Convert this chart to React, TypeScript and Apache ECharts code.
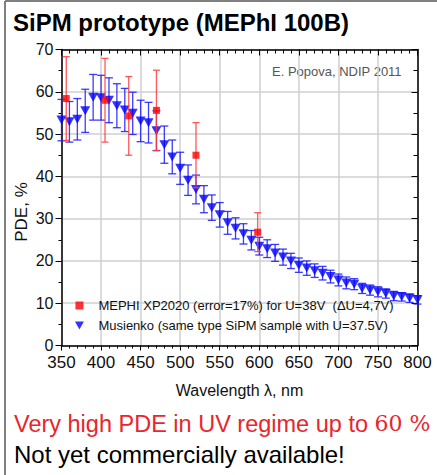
import React, { useEffect, useRef } from "react";
import * as echarts from "echarts";

const titleText = "SiPM prototype (MEPhI 100B)";
const creditText = "E. Popova, NDIP 2011";
const xAxisName = "Wavelength λ, nm";
const yAxisName = "PDE, %";
const noteRed = "Very high PDE in UV regime up to {s|60 %}";
const noteBlack = "Not yet commercially available!";

const mephiName = "MEPHI XP2020 (error=17%) for U=38V  (ΔU=4,7V)";
const musienkoName = "Musienko (same type SiPM sample with U=37.5V)";

const mephiWl = [356, 405, 435, 470, 520, 598];
const mephiPde = [58.4, 58.0, 54.3, 55.6, 45.0, 26.8];
const mephiErr = [9.9, 9.9, 9.3, 9.5, 7.7, 4.6];

const musienkoWl = [
  350, 360, 370, 380, 390, 400, 410, 420, 430, 440, 450, 460, 470, 480, 490, 500,
  510, 520, 530, 540, 550, 560, 570, 580, 590, 600, 610, 620, 630, 640, 650, 660,
  670, 680, 690, 700, 710, 720, 730, 740, 750, 760, 770, 780, 790, 800,
];
const musienkoPde = [
  53.3, 52.9, 53.5, 55.5, 58.7, 58.6, 58.0, 56.7, 55.7, 54.9, 53.1, 52.7, 50.8, 47.5, 44.6, 41.9,
  39.1, 36.9, 34.6, 32.6, 30.9, 29.0, 27.7, 26.4, 24.9, 23.5, 22.9, 21.9, 20.9, 20.0, 19.0, 18.3,
  17.7, 17.1, 16.3, 15.5, 14.8, 14.5, 13.5, 13.1, 12.7, 12.3, 11.7, 11.5, 11.2, 10.8,
];
const musienkoErr = [
  4.9, 4.8, 4.9, 5.1, 5.4, 5.3, 5.3, 5.2, 5.1, 5.0, 4.9, 4.8, 4.7, 4.4, 4.0, 3.8,
  3.6, 3.4, 3.2, 3.0, 2.9, 2.7, 2.5, 2.4, 2.3, 2.1, 2.1, 2.0, 1.9, 1.8, 1.7, 1.7,
  1.6, 1.6, 1.5, 1.4, 1.4, 1.3, 1.2, 1.2, 1.2, 1.1, 1.1, 1.0, 1.0, 1.0,
];

const SANS = "'Liberation Sans', Arial, Helvetica, sans-serif";

function errRender(color: string, capHalf: number, width: number, opacity: number) {
  return (params: any, api: any) => {
    const x = api.value(0);
    const lo = api.coord([x, api.value(1)]);
    const hi = api.coord([x, api.value(2)]);
    const st = { stroke: color, lineWidth: width, opacity };
    return {
      type: "group",
      children: [
        { type: "line", shape: { x1: lo[0], y1: lo[1], x2: hi[0], y2: hi[1] }, style: st },
        { type: "line", shape: { x1: lo[0] - capHalf, y1: lo[1], x2: lo[0] + capHalf, y2: lo[1] }, style: st },
        { type: "line", shape: { x1: hi[0] - capHalf, y1: hi[1], x2: hi[0] + capHalf, y2: hi[1] }, style: st },
      ],
    };
  };
}

export default function App() {
  const ref = useRef<HTMLDivElement>(null);
  useEffect(() => {
    if (!ref.current) return;
    const chart = echarts.init(ref.current, undefined, { renderer: "svg" });
    const axisLine = { show: true, onZero: false, lineStyle: { color: "#000", width: 1.5 } };
    const tickStyle = { color: "#000", width: 1 };
    const gridStyle = { color: "#cfcfcf", width: 1.5 };
    const option: any = {
      animation: false,
      backgroundColor: "#fff",
      title: {
        text: titleText,
        left: 13,
        top: 10,
        padding: 0,
        textStyle: { fontSize: 24, fontWeight: "bold", fontFamily: SANS, color: "#000" },
      },
      grid: { left: 61.5, right: 19.5, top: 49.5, bottom: 129.5, containLabel: false },
      legend: {
        data: [mephiName, musienkoName],
        orient: "vertical",
        left: 75,
        top: 299,
        itemWidth: 28,
        itemHeight: 8,
        itemGap: 7,
        padding: 0,
        textStyle: { fontSize: 13, fontFamily: SANS, color: "#111" },
      },
      xAxis: [
        {
          type: "value",
          position: "bottom",
          min: 350,
          max: 800,
          interval: 50,
          axisLine,
          axisTick: { show: true, inside: false, length: 5, lineStyle: tickStyle },
          minorTick: { show: true, splitNumber: 5, length: 3, lineStyle: tickStyle },
          axisLabel: { margin: 8, fontSize: 17, fontFamily: SANS, color: "#111" },
          splitLine: { show: true, lineStyle: gridStyle },
          name: xAxisName,
          nameLocation: "middle",
          nameGap: 37,
          nameTextStyle: { fontSize: 16, fontFamily: SANS, color: "#111" },
        },
        {
          type: "value",
          position: "top",
          min: 350,
          max: 800,
          interval: 50,
          axisLine,
          axisTick: { show: true, inside: true, length: 6, lineStyle: tickStyle },
          minorTick: { show: true, splitNumber: 5, length: 4, lineStyle: tickStyle },
          axisLabel: { show: false },
          splitLine: { show: false },
        },
      ],
      yAxis: [
        {
          type: "value",
          position: "left",
          min: 0,
          max: 70,
          interval: 10,
          axisLine,
          axisTick: { show: true, inside: false, length: 6, lineStyle: tickStyle },
          minorTick: { show: true, splitNumber: 2, length: 3, lineStyle: tickStyle },
          axisLabel: { margin: 8, fontSize: 16, fontFamily: SANS, color: "#111" },
          splitLine: { show: true, lineStyle: gridStyle },
        },
        {
          type: "value",
          position: "right",
          min: 0,
          max: 70,
          interval: 10,
          axisLine,
          axisTick: { show: true, inside: true, length: 6, lineStyle: tickStyle },
          minorTick: { show: true, splitNumber: 2, length: 4, lineStyle: tickStyle },
          axisLabel: { show: false },
          splitLine: { show: false },
        },
      ],
      graphic: [
        { type: "line", shape: { x1: 5, y1: 1, x2: 437, y2: 1 }, style: { stroke: "#808080", lineWidth: 2 } },
        { type: "line", shape: { x1: 5, y1: 1, x2: 5, y2: 475 }, style: { stroke: "#808080", lineWidth: 2 } },
        {
          type: "text",
          x: 21,
          y: 212,
          rotation: Math.PI / 2,
          style: { text: yAxisName, fontSize: 17, fontFamily: SANS, fill: "#111", align: "center", verticalAlign: "middle" },
        },
        {
          type: "text",
          x: 272,
          y: 71,
          style: { text: creditText, fontSize: 13, fontFamily: SANS, fill: "#555", verticalAlign: "middle" },
        },
        {
          type: "text",
          x: 14,
          y: 423.5,
          style: {
            text: noteRed,
            fontSize: 23.5,
            fontFamily: SANS,
            fill: "#e8262c",
            verticalAlign: "middle",
            rich: { s: { fontSize: 22, fontFamily: "'DejaVu Serif', 'Liberation Serif', serif", fill: "#e8262c" } },
          },
        },
        {
          type: "text",
          x: 14,
          y: 454.6,
          style: { text: noteBlack, fontSize: 24, fontFamily: SANS, fill: "#000", verticalAlign: "middle" },
        },
      ],
      series: [
        {
          type: "custom",
          name: "musienkoErr",
          renderItem: errRender("#1a1aff", 4, 1.3, 0.85),
          data: musienkoWl.map((w, i) => [w, musienkoPde[i] - musienkoErr[i], musienkoPde[i] + musienkoErr[i]]),
          encode: { x: 0, y: [1, 2] },
          z: 2,
        },
        {
          type: "scatter",
          name: musienkoName,
          symbol: "path://M0,0L10,0L5,9Z",
          symbolSize: [10, 9],
          itemStyle: { color: "#0000ff" },
          data: musienkoWl.map((w, i) => [w, musienkoPde[i]]),
          z: 3,
        },
        {
          type: "custom",
          name: "mephiErr",
          renderItem: errRender("#ff3b3b", 3.5, 1.3, 0.85),
          data: mephiWl.map((w, i) => [w, mephiPde[i] - mephiErr[i], mephiPde[i] + mephiErr[i]]),
          encode: { x: 0, y: [1, 2] },
          z: 4,
        },
        {
          type: "scatter",
          name: mephiName,
          symbol: "path://M0,0L10,0L10,10L0,10Z",
          symbolSize: 7,
          itemStyle: { color: "#ff0000" },
          data: mephiWl.map((w, i) => [w, mephiPde[i]]),
          z: 5,
        },
      ],
    };
    chart.setOption(option);
    return () => chart.dispose();
  }, []);
  return (
    <div
      ref={ref}
      style={{ position: "absolute", left: 0, top: 0, width: 437, height: 475 }}
    />
  );
}
